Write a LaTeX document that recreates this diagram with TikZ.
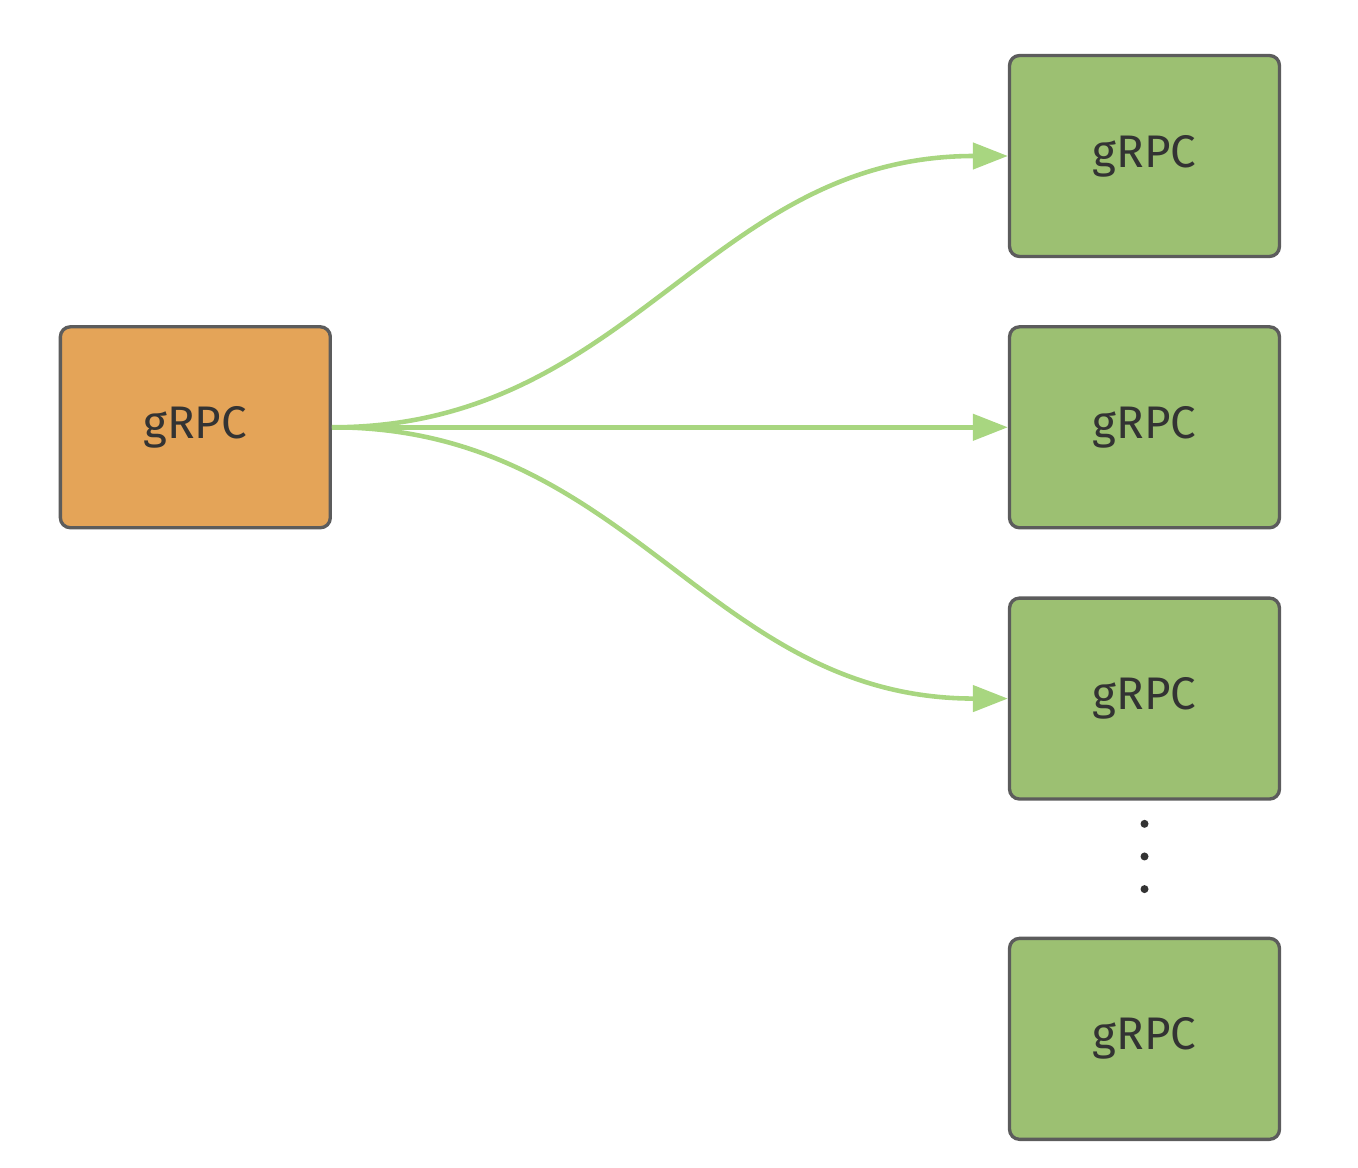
\documentclass[tikz,border=0pt]{standalone}
\usepackage{fontspec}
\setmainfont{Fira Sans}
\usetikzlibrary{arrows.meta,calc,positioning}
\definecolor{rpcorange}{RGB}{228,164,88}
\definecolor{rpcgreen}{RGB}{156,192,114}
\definecolor{rpcedge}{RGB}{92,92,92}
\definecolor{rpcarrow}{RGB}{168,214,128}

\begin{document}
\begin{tikzpicture}[x=.02cm,y=-.02cm,
    font=\fontsize{26}{30}\selectfont,
    box/.style={draw=rpcedge,line width=1.9pt,rounded corners=.2cm,
      minimum width=5.4cm,minimum height=4.02cm,text=black!80},
    client/.style={box,fill=rpcorange},
    server/.style={box,fill=rpcgreen},
    call/.style={draw=rpcarrow,line width=2.6pt,
      -{Triangle[length=.7cm,width=.52cm]}},
    dot/.style={circle,fill=black!80,inner sep=0pt,minimum size=.16cm}]
    \useasboundingbox (0,0) rectangle (1358,1168);
    \node[server] (g1) at (1144.5,156) {gRPC};
    \node[server,below=1.34cm of g1] (g2) {gRPC};
    \node[server,below=1.34cm of g2] (g3) {gRPC};
    \node[server,below=2.72cm of g3] (g4) {gRPC};
    \node[client,left=13.52cm of g2] (src) {gRPC};
    % dots between the last two servers
    \foreach \f [count=\i] in {.17,.41,.65}
      \node[dot] (d\i) at ($(g3.south)!\f!(g4.north)$) {};
    \draw[call] (src.east) .. controls +(300,0) and +(-300,0) .. (g1.west);
    \draw[call] (src.east) -- (g2.west);
    \draw[call] (src.east) .. controls +(300,0) and +(-300,0) .. (g3.west);
  \end{tikzpicture}
\end{document}
